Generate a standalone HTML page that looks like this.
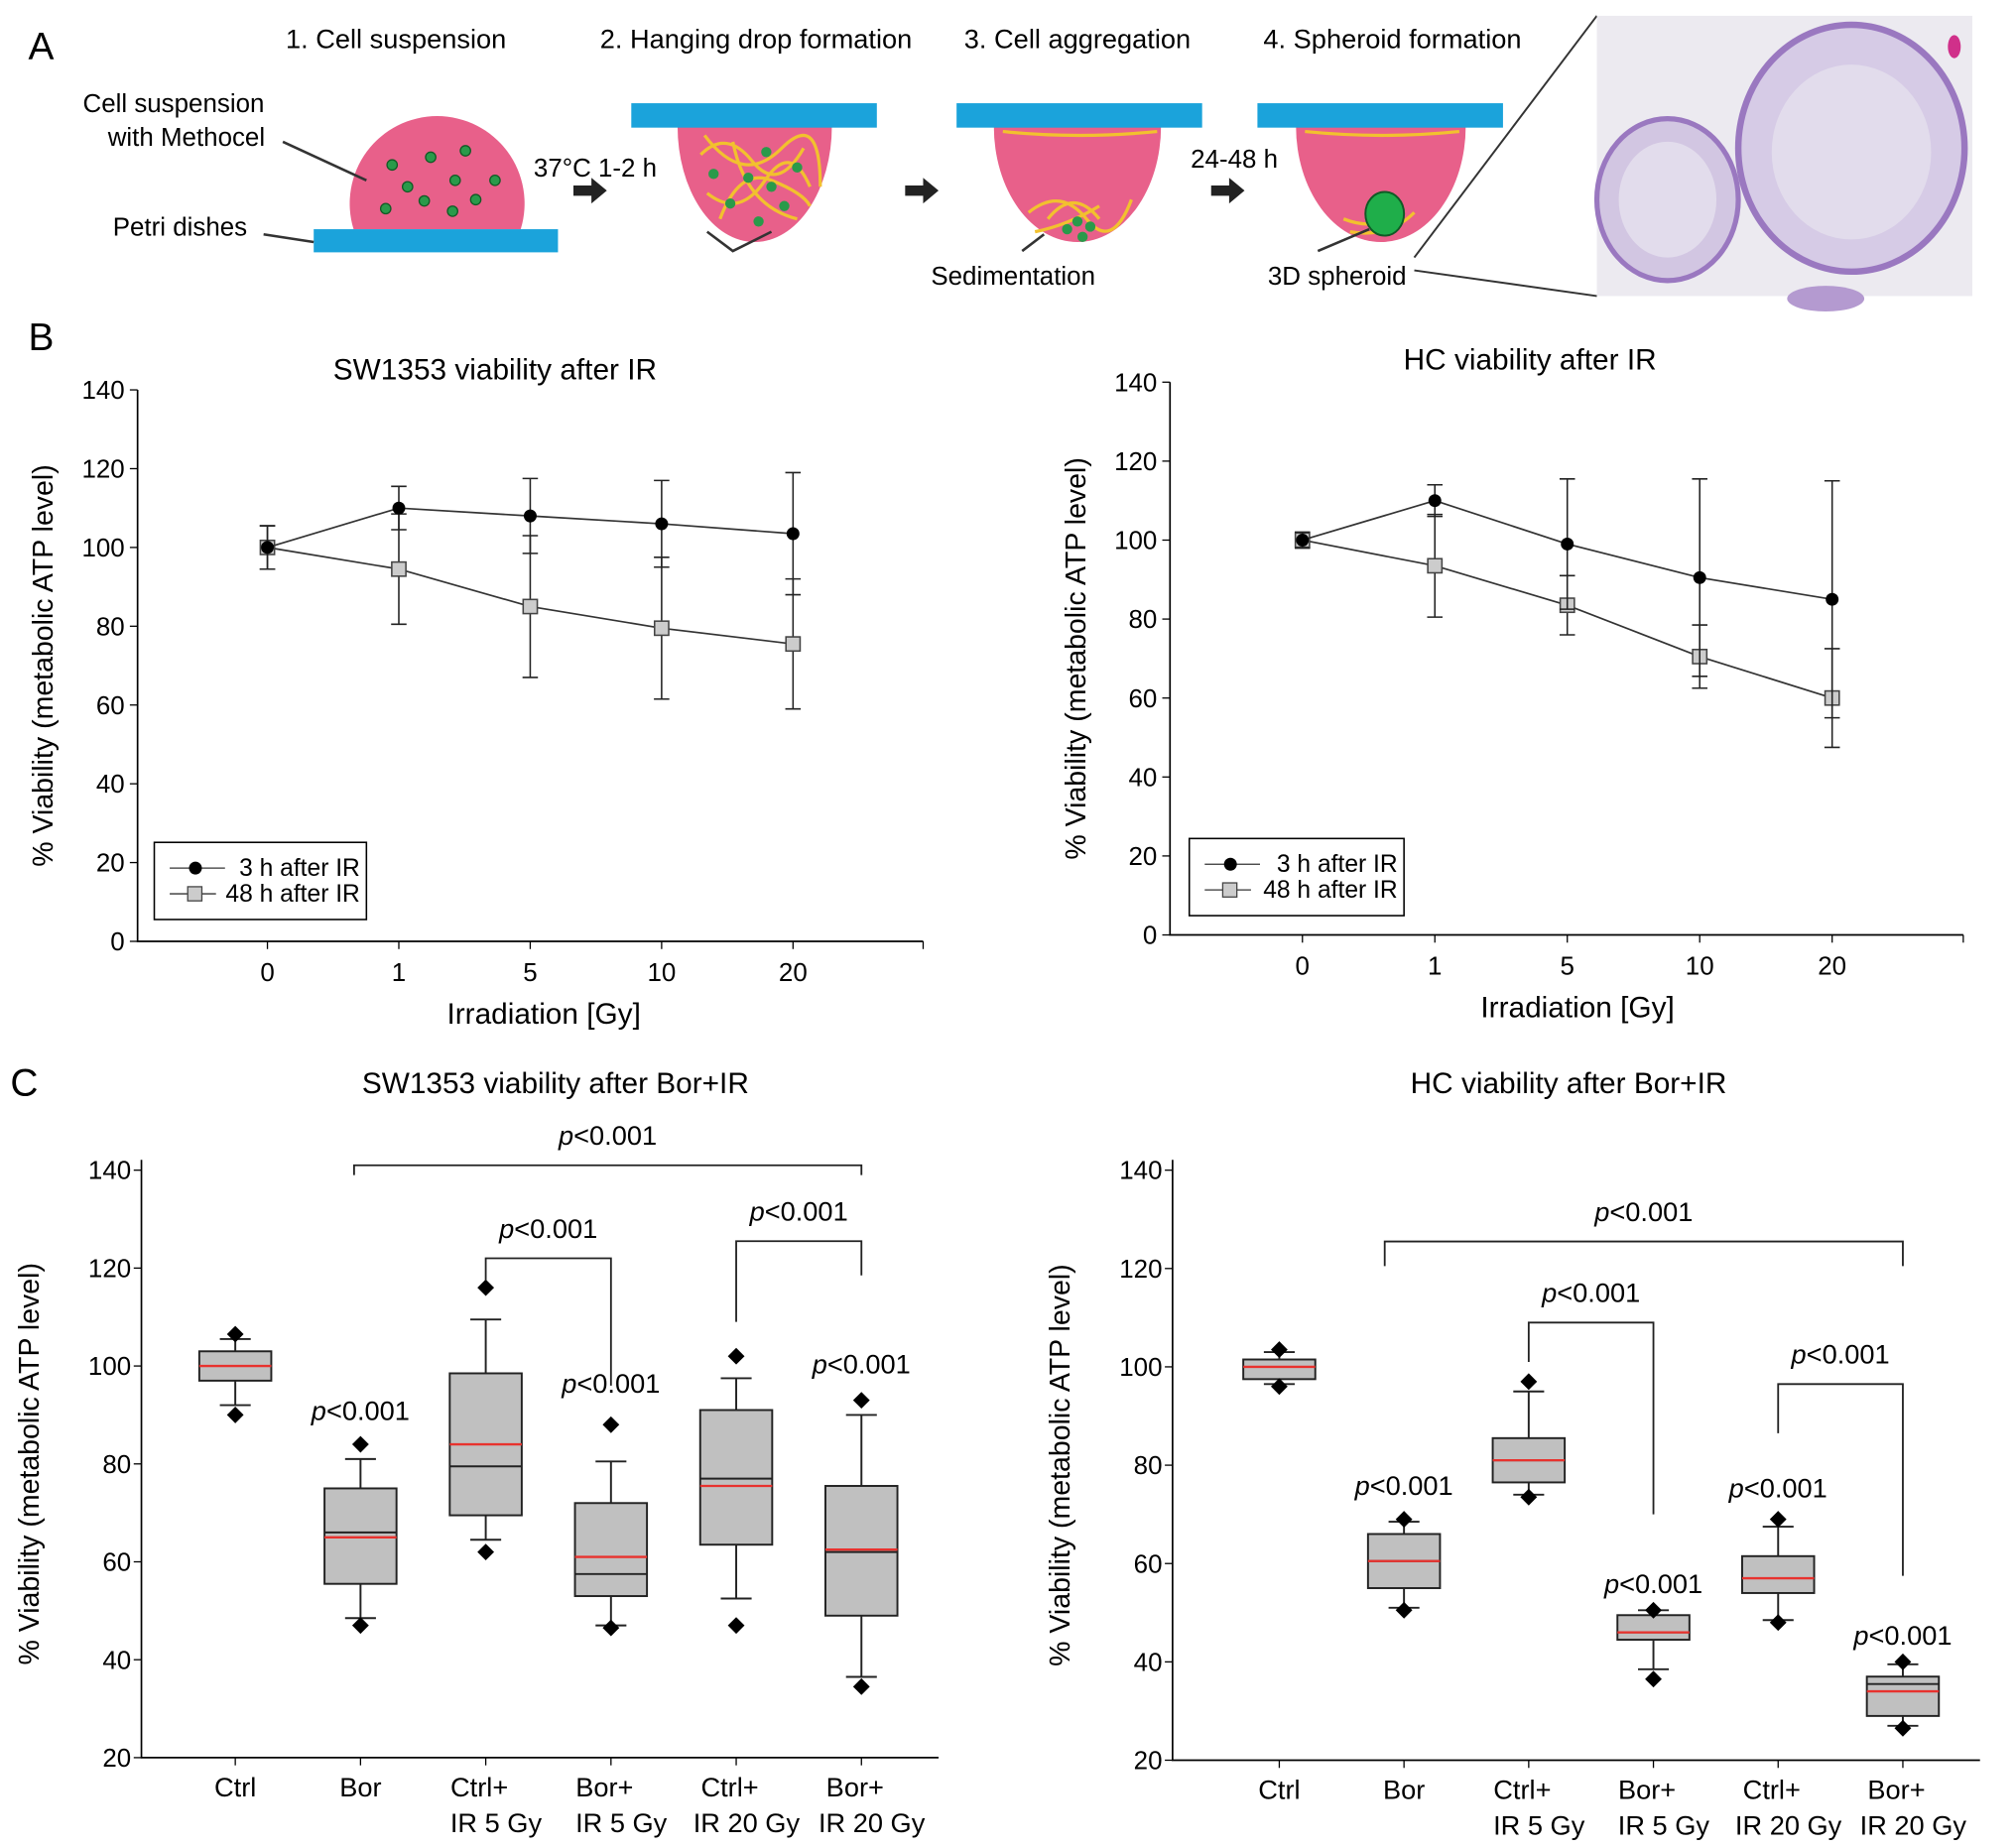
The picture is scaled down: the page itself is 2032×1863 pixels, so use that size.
<!DOCTYPE html>
<html><head><meta charset="utf-8"><style>
html,body{margin:0;padding:0;background:#fff;}
svg{display:block;font-family:"Liberation Sans",Arial,sans-serif;}
</style></head><body>
<svg id="fig" width="2032" height="1863" viewBox="0 0 1568 1437" xmlns="http://www.w3.org/2000/svg">
<g id="panelA">
<text x="22" y="46" font-size="30">A</text>
<text x="308" y="37" font-size="21" text-anchor="middle">1. Cell suspension</text>
<text x="588" y="37" font-size="21" text-anchor="middle">2. Hanging drop formation</text>
<text x="838" y="37" font-size="21" text-anchor="middle">3. Cell aggregation</text>
<text x="1083" y="37" font-size="21" text-anchor="middle">4. Spheroid formation</text>
<g>
<path d="M275,178 A68,68 0 1 1 405,178 Z" fill="#e8608a"/>
<rect x="244" y="178" width="190" height="18" fill="#1ba3db"/>
<g fill="#2a9a4a" stroke="#125a25" stroke-width="1"><circle cx="305" cy="128" r="4"/><circle cx="335" cy="122" r="4"/><circle cx="362" cy="117" r="4"/><circle cx="317" cy="145" r="4"/><circle cx="354" cy="140" r="4"/><circle cx="385" cy="140" r="4"/><circle cx="330" cy="156" r="4"/><circle cx="370" cy="155" r="4"/><circle cx="300" cy="162" r="4"/><circle cx="352" cy="164" r="4"/></g>
<line x1="220" y1="110" x2="285" y2="140" stroke="#333" stroke-width="2"/>
<line x1="205" y1="182" x2="244" y2="188" stroke="#333" stroke-width="2"/>
</g>
<text x="135" y="87" font-size="20" text-anchor="middle">Cell suspension</text>
<text x="145" y="113" font-size="20" text-anchor="middle">with Methocel</text>
<text x="140" y="183" font-size="20" text-anchor="middle">Petri dishes</text>
<text x="463" y="137" font-size="20" text-anchor="middle">37°C 1-2 h</text>
<path d="M446,144 h14 v-6 l12,10 l-12,10 v-6 h-14 Z" fill="#222"/>
<g>
<path d="M527,98 A60,90 0 0 0 647,98 Z" fill="#e8608a"/>
<rect x="491" y="80" width="191" height="19" fill="#1ba3db"/>
<path d="M545,120 q20,-20 40,5 t40,-10 M550,150 q25,20 45,-10 t35,5 M560,170 q15,-40 40,-30 t30,20 M548,105 q30,40 60,10 t30,30 M570,110 q10,50 50,60" stroke="#f2c12e" stroke-width="2.5" fill="none"/>
<g fill="#2a9a4a"><circle cx="555" cy="135" r="4"/><circle cx="582" cy="138" r="4"/><circle cx="600" cy="145" r="4"/><circle cx="620" cy="130" r="4"/><circle cx="568" cy="158" r="4"/><circle cx="610" cy="160" r="4"/><circle cx="590" cy="172" r="4"/><circle cx="596" cy="118" r="4"/></g>
<path d="M550,180 L570,195 L600,180" stroke="#333" stroke-width="2" fill="none"/>
</g>
<path d="M704,144 h14 v-6 l12,10 l-12,10 v-6 h-14 Z" fill="#222"/>
<g>
<path d="M773,98 A65,90 0 0 0 903,98 Z" fill="#e8608a"/>
<rect x="744" y="80" width="191" height="19" fill="#1ba3db"/>
<path d="M780,102 q60,6 120,0 M800,165 q25,-20 45,5 t35,-15 M805,180 q25,-5 50,-20 M815,170 q20,-25 40,0" stroke="#f2c12e" stroke-width="2.5" fill="none"/>
<g fill="#2a9a4a"><circle cx="830" cy="178" r="4"/><circle cx="842" cy="184" r="4"/><circle cx="838" cy="172" r="4"/><circle cx="848" cy="176" r="4"/></g>
<line x1="795" y1="195" x2="812" y2="182" stroke="#333" stroke-width="2"/>
</g>
<text x="788" y="221" font-size="20" text-anchor="middle">Sedimentation</text>
<text x="960" y="130" font-size="20" text-anchor="middle">24-48 h</text>
<path d="M942,144 h14 v-6 l12,10 l-12,10 v-6 h-14 Z" fill="#222"/>
<g>
<path d="M1008,98 A66,90 0 0 0 1140,98 Z" fill="#e8608a"/>
<rect x="978" y="80" width="191" height="19" fill="#1ba3db"/>
<path d="M1015,102 q60,6 120,0 M1045,170 q25,10 45,-5 M1050,180 q30,5 50,-15" stroke="#f2c12e" stroke-width="2.5" fill="none"/>
<ellipse cx="1077" cy="166" rx="15" ry="17" fill="#1fae4a" stroke="#0f5a25" stroke-width="1.5"/>
<line x1="1025" y1="195" x2="1065" y2="178" stroke="#333" stroke-width="2"/>
</g>
<text x="1040" y="221" font-size="20" text-anchor="middle">3D spheroid</text>
<line x1="1100" y1="200" x2="1242" y2="12" stroke="#333" stroke-width="1.5"/>
<line x1="1100" y1="210" x2="1242" y2="230" stroke="#333" stroke-width="1.5"/>
<g>
<rect x="1242" y="12" width="292" height="218" fill="#eceaf0"/>
<ellipse cx="1297" cy="155" rx="55" ry="63" fill="#d2c6e2" stroke="#9a78c0" stroke-width="4"/>
<ellipse cx="1440" cy="115" rx="88" ry="96" fill="#d6cbe6" stroke="#9a78c0" stroke-width="5"/>
<ellipse cx="1297" cy="155" rx="38" ry="45" fill="#e2dcec"/>
<ellipse cx="1440" cy="118" rx="62" ry="68" fill="#e2dcec"/>
<ellipse cx="1420" cy="232" rx="30" ry="10" fill="#b49ad0"/>
<ellipse cx="1520" cy="36" rx="5" ry="9" fill="#d0308a"/>
</g>
</g>
<g id="charts"></g>
</svg>
<script>
// ---- Panel B data ----
const doseLabels = ["0","1","5","10","20"];
const swB3h = [100,110,108,106,103.5];
const swB3hErr = [5.5,5.5,9.5,11,15.5];
const swB48h = [100,94.5,85,79.5,75.5];
const swB48hErr = [5.5,14,18,18,16.5];
const hcB3h = [100,110,99,90.5,85];
const hcB3hErr = [2,4,16.5,25,30];
const hcB48h = [100,93.5,83.5,70.5,60];
const hcB48hErr = [2,13,7.5,8,12.5];
const yTicksB = [0,20,40,60,80,100,120,140];
// ---- Panel C data ----
const groupLine1 = ["Ctrl","Bor","Ctrl+","Bor+","Ctrl+","Bor+"];
const groupLine2 = ["","","IR 5 Gy","IR 5 Gy","IR 20 Gy","IR 20 Gy"];
const yTicksC = [20,40,60,80,100,120,140];
const swQ1 = [97,55.5,69.5,53,63.5,49];
const swMed = [100,66,79.5,57.5,77,62];
const swMean = [100,65,84,61,75.5,62.5];
const swQ3 = [103,75,98.5,72,91,75.5];
const swWLo = [92,48.5,64.5,47,52.5,36.5];
const swWHi = [105.5,81,109.5,80.5,97.5,90];
const swOutLo = [90,47,62,46.5,47,34.5];
const swOutHi = [106.5,84,116,88,102,93];
const hcQ1 = [97.5,55,76.5,44.5,54,29];
const hcMed = [100,60.5,81,46,57,35.5];
const hcMean = [100,60.5,81,46,57,34];
const hcQ3 = [101.5,66,85.5,49.5,61.5,37];
const hcWLo = [96.5,51,74,38.5,48.5,27];
const hcWHi = [103,68.5,95,50.5,67.5,39.5];
const hcOutLo = [96,50.5,73.5,36.5,48,26.5];
const hcOutHi = [103.5,69,97,50.5,69,40];

const NS="http://www.w3.org/2000/svg";
const root=document.getElementById('charts');
function mk(tag,attrs,parent,txt){const e=document.createElementNS(NS,tag);for(const k in attrs)e.setAttribute(k,attrs[k]);if(txt!==undefined)e.textContent=txt;(parent||root).appendChild(e);return e;}

function lineChart(cfg){
  const g=mk('g',{});
  
  
  const y=v=>cfg.y0-(v-0)*(cfg.y0-cfg.y140)/140;
  const x=i=>cfg.xs0+i*cfg.dx;
  const ax=mk('path',{d:`M${cfg.xl},${cfg.y140} L${cfg.xl},${cfg.y0} L${cfg.xr},${cfg.y0}`,stroke:'#000','stroke-width':1.3,fill:'none'},g);
  
  yTicksB.forEach(t=>{mk('line',{x1:cfg.xl-6,x2:cfg.xl,y1:y(t),y2:y(t),stroke:'#000'},g);
    const tl=mk('text',{x:cfg.xl-10,y:y(t)+7,'font-size':20,'text-anchor':'end'},g,t);
    });
  doseLabels.forEach((d,i)=>{mk('line',{x1:x(i),x2:x(i),y1:cfg.y0,y2:cfg.y0+6,stroke:'#000'},g);
    const tl=mk('text',{x:x(i),y:cfg.y0+31,'font-size':20,'text-anchor':'middle'},g,d);
    });
  mk('line',{x1:cfg.xr,x2:cfg.xr,y1:cfg.y0,y2:cfg.y0+6,stroke:'#000'},g);
  const tt=mk('text',{x:cfg.tx,y:cfg.ty,'font-size':23,'text-anchor':'middle'},g,cfg.title);
  
  const xt=mk('text',{x:cfg.xlab,y:cfg.y0+64,'font-size':23,'text-anchor':'middle'},g,'Irradiation [Gy]');
  
  const yc=(cfg.y0+cfg.y140)/2;
  const yt=mk('text',{x:0,y:0,'font-size':22,'text-anchor':'middle',transform:`translate(${cfg.xl-66},${yc}) rotate(-90)`},g,'% Viability (metabolic ATP level)');
  
  const series=[[cfg.s48,cfg.e48,'sq','series-48h'],[cfg.s3,cfg.e3,'dot','series-3h']];
  series.forEach(([vals,errs,shape,nm])=>{
    const sg=mk('g',{},g);
    mk('polyline',{points:vals.map((v,i)=>x(i)+','+y(v)).join(' '),stroke:'#333','stroke-width':1.3,fill:'none'},sg);
    vals.forEach((v,i)=>{
      const eb=mk('path',{d:`M${x(i)},${y(v-errs[i])} L${x(i)},${y(v+errs[i])} M${x(i)-6},${y(v-errs[i])} L${x(i)+6},${y(v-errs[i])} M${x(i)-6},${y(v+errs[i])} L${x(i)+6},${y(v+errs[i])}`,stroke:'#222','stroke-width':1.2,fill:'none'},sg);
      
      let m;
      if(shape==='dot')m=mk('circle',{cx:x(i),cy:y(v),r:5,fill:'#000'},sg);
      else m=mk('rect',{x:x(i)-5.5,y:y(v)-5.5,width:11,height:11,fill:'#ccc',stroke:'#444','stroke-width':1.2},sg);
      
    });
  });
  const lg=mk('g',{},g);
  const L=cfg.leg;
  mk('rect',{x:L[0],y:L[1],width:L[2],height:60,fill:'#fff',stroke:'#000','stroke-width':1.2},lg);
  mk('line',{x1:L[0]+12,x2:L[0]+55,y1:L[1]+20,y2:L[1]+20,stroke:'#333'},lg);
  mk('circle',{cx:L[0]+32,cy:L[1]+20,r:5},lg);
  const t1=mk('text',{x:L[0]+L[2]-5,y:L[1]+26,'font-size':19,'text-anchor':'end'},lg,'3 h after IR');
  
  mk('line',{x1:L[0]+12,x2:L[0]+48,y1:L[1]+40,y2:L[1]+40,stroke:'#333'},lg);
  mk('rect',{x:L[0]+26,y:L[1]+34.5,width:11,height:11,fill:'#ccc',stroke:'#444'},lg);
  const t2=mk('text',{x:L[0]+L[2]-5,y:L[1]+46,'font-size':19,'text-anchor':'end'},lg,'48 h after IR');
  
}

lineChart({name:'sw1353-ir-chart',xl:107,xr:718,y0:732,y140:303,xs0:208,dx:102.2,title:'SW1353  viability after IR',tx:385,ty:295,xlab:423,s3:swB3h,e3:swB3hErr,s48:swB48h,e48:swB48hErr,leg:[120,655,165]});
lineChart({name:'hc-ir-chart',xl:910,xr:1527,y0:727,y140:297,xs0:1013,dx:103,title:'HC  viability after IR',tx:1190,ty:287,xlab:1227,s3:hcB3h,e3:hcB3hErr,s48:hcB48h,e48:hcB48hErr,leg:[925,652,167]});

function boxChart(cfg){
  const g=mk('g',{});
  
  
  const y=v=>cfg.y20-(v-20)*(cfg.y20-cfg.y140)/120;
  const x=i=>cfg.xs0+i*cfg.dx;
  mk('path',{d:`M${cfg.xl},${cfg.y140-8} L${cfg.xl},${cfg.y20} L${cfg.xr},${cfg.y20}`,stroke:'#000','stroke-width':1.3,fill:'none'},g);
  yTicksC.forEach(t=>{mk('line',{x1:cfg.xl-6,x2:cfg.xl,y1:y(t),y2:y(t),stroke:'#000'},g);
    const tl=mk('text',{x:cfg.xl-8,y:y(t)+7,'font-size':20,'text-anchor':'end'},g,t);
    });
  groupLine1.forEach((n,i)=>{mk('line',{x1:x(i),x2:x(i),y1:cfg.y20,y2:cfg.y20+6,stroke:'#000'},g);
    const a=mk('text',{x:x(i)+(groupLine2[i]?-5:0),y:cfg.y20+30,'font-size':21,'text-anchor':'middle'},g,n);
    
    if(groupLine2[i]){const b=mk('text',{x:x(i)+8,y:cfg.y20+58,'font-size':21,'text-anchor':'middle'},g,groupLine2[i]);
      }
  });
  const tt=mk('text',{x:cfg.tx,y:cfg.ty,'font-size':23,'text-anchor':'middle'},g,cfg.title);
  
  const yc=(cfg.y20+cfg.y140)/2;
  const yt=mk('text',{x:0,y:0,'font-size':22,'text-anchor':'middle',transform:`translate(${cfg.xl-80},${yc}) rotate(-90)`},g,'% Viability (metabolic ATP level)');
  
  const d=cfg.d,hw=28;
  groupLine1.forEach((n,i)=>{
    const bg=mk('g',{},g);
    const cx=x(i);
    mk('path',{d:`M${cx},${y(d.q3[i])} L${cx},${y(d.wh[i])} M${cx-12},${y(d.wh[i])} L${cx+12},${y(d.wh[i])} M${cx},${y(d.q1[i])} L${cx},${y(d.wl[i])} M${cx-12},${y(d.wl[i])} L${cx+12},${y(d.wl[i])}`,stroke:'#222','stroke-width':1.5,fill:'none'},bg);
    mk('rect',{x:cx-hw,y:y(d.q3[i]),width:2*hw,height:y(d.q1[i])-y(d.q3[i]),fill:'#c0c0c0',stroke:'#222','stroke-width':1.5},bg);
    mk('line',{x1:cx-hw,x2:cx+hw,y1:y(d.med[i]),y2:y(d.med[i]),stroke:'#222','stroke-width':1.5},bg);
    mk('line',{x1:cx-hw,x2:cx+hw,y1:y(d.mean[i]),y2:y(d.mean[i]),stroke:'#e8322e','stroke-width':1.8},bg);
    [d.ol[i],d.oh[i]].forEach(v=>{const o=mk('path',{d:`M${cx},${y(v)-6.5} L${cx+6.5},${y(v)} L${cx},${y(v)+6.5} L${cx-6.5},${y(v)} Z`,fill:'#000'},bg);
      });
  });
  cfg.brackets.forEach(b=>{
    const x0=x(b[0])+(b[5]||0);
    const bk=mk('path',{d:`M${x0},${y(b[3])} L${x0},${y(b[2])} L${x(b[1])},${y(b[2])} L${x(b[1])},${y(b[4])}`,stroke:'#222','stroke-width':1.4,fill:'none'},g);
    
    const t=mk('text',{x:(x0+x(b[1]))/2,y:y(b[2])-16,'font-size':21,'text-anchor':'middle'},g);
    
    mk('tspan',{'font-style':'italic'},t,'p');mk('tspan',{},t,'<0.001');
  });
  cfg.plabels.forEach(p=>{
    const t=mk('text',{x:x(p[0]),y:y(p[1]),'font-size':21,'text-anchor':'middle'},g);
    
    mk('tspan',{'font-style':'italic'},t,'p');mk('tspan',{},t,'<0.001');
  });
}
boxChart({name:'sw1353-bor-ir-chart',xl:110,xr:730,y20:1367,y140:910,xs0:183,dx:97.4,title:'SW1353  viability after Bor+IR',tx:432,ty:850,
  d:{q1:swQ1,med:swMed,mean:swMean,q3:swQ3,wl:swWLo,wh:swWHi,ol:swOutLo,oh:swOutHi},
  brackets:[[1,5,141,139,139,-5],[2,3,122,117.5,96],[4,5,125.5,109,118.5]],
  plabels:[[1,89],[3,94.5],[5,98.5]]});
boxChart({name:'hc-bor-ir-chart',xl:912,xr:1540,y20:1369,y140:910,xs0:995,dx:97,title:'HC viability after Bor+IR',tx:1220,ty:850,
  d:{q1:hcQ1,med:hcMed,mean:hcMean,q3:hcQ3,wl:hcWLo,wh:hcWHi,ol:hcOutLo,oh:hcOutHi},
  brackets:[[1,5,125.5,120.5,120.5,-15],[2,3,109,101,70],[4,5,96.5,86.5,57.5]],
  plabels:[[1,74],[3,54],[4,73.5],[5,43.5]]});
const lb=mk('text',{x:22,y:272,'font-size':30},root,'B');
const lc=mk('text',{x:8,y:852,'font-size':30},root,'C');
</script>
</body></html>
